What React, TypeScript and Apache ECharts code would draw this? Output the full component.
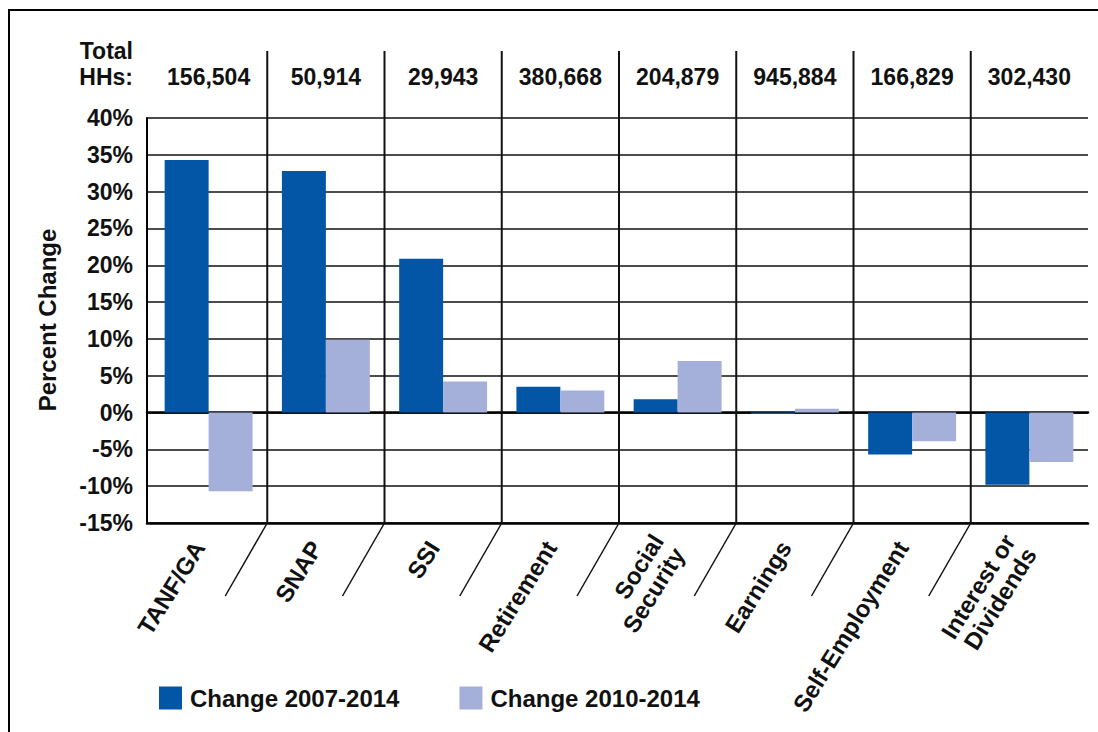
import React, { useEffect, useRef } from "react";
import * as echarts from "echarts";

const categories = [
  "TANF/GA",
  "SNAP",
  "SSI",
  "Retirement",
  "Social\nSecurity",
  "Earnings",
  "Self-Employment",
  "Interest or\nDividends",
];
const totalHHs = ["156,504", "50,914", "29,943", "380,668", "204,879", "945,884", "166,829", "302,430"];
const change2007 = [34.3, 32.8, 20.9, 3.5, 1.8, -0.2, -5.7, -9.8];
const change2010 = [-10.7, 9.9, 4.2, 3.0, 7.0, 0.5, -3.9, -6.7];
const seriesNames = ["Change 2007-2014", "Change 2010-2014"];
const yMin = -15;
const yMax = 40;
const yStep = 5;

const FONT = '"Liberation Sans", Arial, Helvetica, sans-serif';
const W = 1098;
const H = 732;
const PLOT_TOP = 118;
const PLOT_BOTTOM = 523;
const AXIS_LEFT = 147;
const BAR_LEFT = 150;
const PLOT_RIGHT = 1088;

export default function App() {
  const ref = useRef<HTMLDivElement>(null);
  useEffect(() => {
    document.body.style.margin = "0";
    const chart = echarts.init(ref.current!, undefined, { renderer: "svg" });
    const n = categories.length;
    const band = (PLOT_RIGHT - BAR_LEFT) / n;
    const graphics: any[] = [
      {
        type: "rect",
        shape: { x: 9, y: 10, width: 1300, height: 900 },
        style: { fill: "none", stroke: "#000", lineWidth: 2 },
        z: 10,
      },
      {
        type: "text",
        x: 133,
        y: 51,
        style: {
          text: "Total",
          font: `bold 23px ${FONT}`,
          fill: "#111",
          textAlign: "right",
          textVerticalAlign: "middle",
        },
      },
      {
        type: "text",
        x: 133,
        y: 77,
        style: {
          text: "HHs:",
          font: `bold 23px ${FONT}`,
          fill: "#111",
          textAlign: "right",
          textVerticalAlign: "middle",
        },
      },
      {
        type: "text",
        x: 47,
        y: 320,
        rotation: Math.PI / 2,
        style: {
          text: "Percent Change",
          font: `bold 24px ${FONT}`,
          fill: "#111",
          textAlign: "center",
          textVerticalAlign: "middle",
        },
      },
    ];
    for (let k = 1; k < n; k++) {
      const x = BAR_LEFT + k * band;
      graphics.push({
        type: "line",
        shape: { x1: x, y1: 51, x2: x, y2: PLOT_BOTTOM },
        style: { stroke: "#111", lineWidth: 2 },
        z: 5,
      });
      graphics.push({
        type: "line",
        shape: { x1: x, y1: PLOT_BOTTOM, x2: x - 42, y2: PLOT_BOTTOM + 73 },
        style: { stroke: "#111", lineWidth: 1.5 },
        z: 5,
      });
    }

    const gridBase = { top: PLOT_TOP, bottom: H - PLOT_BOTTOM, right: W - PLOT_RIGHT };
    const blank = categories.map(() => "");
    const valAxisCommon = { type: "value", min: yMin, max: yMax, interval: yStep };

    chart.setOption({
      animation: false,
      textStyle: { fontFamily: FONT },
      grid: [
        { ...gridBase, left: AXIS_LEFT },
        { ...gridBase, left: BAR_LEFT },
        { ...gridBase, left: AXIS_LEFT },
      ],
      legend: {
        left: 154,
        top: 681,
        itemWidth: 23,
        itemHeight: 23,
        itemGap: 60,
        icon: "rect",
        data: seriesNames,
        textStyle: { fontSize: 24, fontWeight: "bold", color: "#111", fontFamily: FONT, padding: [0, 0, 0, 3] },
      },
      xAxis: [
        {
          type: "category",
          gridIndex: 0,
          data: blank,
          axisLine: { show: true, onZero: true, lineStyle: { color: "#000", width: 2.5 } },
          axisTick: { show: false },
          axisLabel: { show: false },
          splitLine: { show: false },
        },
        {
          type: "category",
          gridIndex: 1,
          data: categories,
          position: "bottom",
          axisLine: { show: false },
          axisTick: { show: false },
          splitLine: { show: false },
          axisLabel: {
            interval: 0,
            rotate: 58,
            margin: 5,
            padding: [0, 18, 0, 0],
            fontSize: 24,
            fontWeight: "bold",
            color: "#111",
            lineHeight: 25,
            fontFamily: FONT,
          },
        },
        {
          type: "category",
          gridIndex: 1,
          data: totalHHs,
          position: "top",
          axisLine: { show: false },
          axisTick: { show: false },
          splitLine: { show: false },
          axisLabel: {
            interval: 0,
            margin: 30,
            fontSize: 23,
            fontWeight: "bold",
            color: "#111",
            fontFamily: FONT,
          },
        },
        {
          type: "category",
          gridIndex: 2,
          data: blank,
          position: "bottom",
          axisLine: { show: true, onZero: false, lineStyle: { color: "#000", width: 2.5 } },
          axisTick: { show: false },
          axisLabel: { show: false },
          splitLine: { show: false },
        },
      ],
      yAxis: [
        {
          ...valAxisCommon,
          gridIndex: 0,
          axisLine: { show: true, lineStyle: { color: "#000", width: 2 } },
          axisTick: { show: false },
          splitLine: { show: true, lineStyle: { color: "#111", width: 1.5 } },
          axisLabel: {
            formatter: (v: number) => `${v}%`,
            margin: 14,
            fontSize: 23,
            fontWeight: "bold",
            color: "#111",
            fontFamily: FONT,
          },
        },
        {
          ...valAxisCommon,
          gridIndex: 1,
          axisLine: { show: false },
          axisTick: { show: false },
          axisLabel: { show: false },
          splitLine: { show: false },
        },
        {
          ...valAxisCommon,
          gridIndex: 2,
          axisLine: { show: false },
          axisTick: { show: false },
          axisLabel: { show: false },
          splitLine: { show: false },
        },
      ],
      series: [
        {
          name: seriesNames[0],
          type: "bar",
          xAxisIndex: 1,
          yAxisIndex: 1,
          data: change2007,
          barGap: "0%",
          barCategoryGap: "25%",
          itemStyle: { color: "#0356A6" },
        },
        {
          name: seriesNames[1],
          type: "bar",
          xAxisIndex: 1,
          yAxisIndex: 1,
          data: change2010,
          barGap: "0%",
          barCategoryGap: "25%",
          itemStyle: { color: "#A4AFDA" },
        },
      ],
      graphic: graphics,
    });
    return () => chart.dispose();
  }, []);
  return <div ref={ref} style={{ width: W, height: H, background: "#fff" }} />;
}
